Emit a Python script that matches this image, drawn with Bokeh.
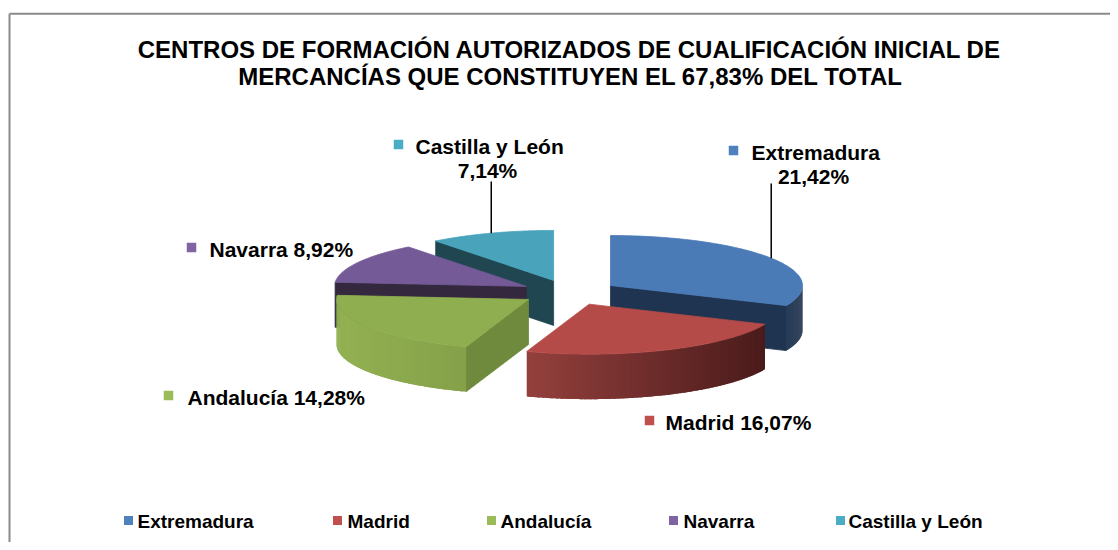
import numpy as np
from bokeh.plotting import figure
from bokeh.models import Range1d, ColumnDataSource
from bokeh.core.properties import value
from bokeh.embed import file_html
from bokeh.resources import INLINE

# ---------------- data ----------------
categories = ["Extremadura", "Madrid", "Andalucía", "Navarra", "Castilla y León"]
percent = [21.42, 16.07, 14.28, 8.92, 7.14]
pct_text = ["21,42%", "16,07%", "14,28%", "8,92%", "7,14%"]
title_lines = ["CENTROS DE FORMACIÓN AUTORIZADOS DE CUALIFICACIÓN INICIAL DE",
               "MERCANCÍAS QUE CONSTITUYEN EL 67,83% DEL TOTAL"]

# ---------------- styles ----------------
top_colors = ["#4a7bb7", "#b44b48", "#8fae50", "#745a97", "#49a3bb"]
side_light = ["#203653", "#94403d", "#93b152", "#35293f", "#1f4752"]
side_dark = ["#1c2f49", "#4a1b1b", "#84a149", "#35293f", "#1f4752"]
radial_colors = ["#1f3450", "#4a1b1b", "#6f8a3c", "#33283e", "#1f4651"]
legend_colors = ["#4f81bd", "#c0504d", "#9bbb59", "#8064a2", "#4bacc6"]
FONT = "Liberation Sans"

# pie geometry (screen pixels)
CX, CY = 569.0, 292.0
RX, RY = 192.0, 50.0
DEPTH = 45.0
EXPLODE = 0.255

W, H = 1110, 542
p = figure(width=W, height=H, x_range=Range1d(0, W), y_range=Range1d(H, 0),
           output_backend="svg", toolbar_location=None, min_border=0)
p.axis.visible = False
p.grid.visible = False
p.outline_line_color = None
p.background_fill_color = "white"
p.border_fill_color = "white"

# chart-area border (top and left visible)
p.line([9, 9], [13.3, 560], line_color="#8a8a8a", line_width=2)
p.line([9, 1130], [13.3, 13.3], line_color="#8a8a8a", line_width=2)


def hex2rgb(h):
    h = h.lstrip("#")
    return np.array([int(h[i:i + 2], 16) for i in (0, 2, 4)], dtype=float)


def mix(c1, c2, f):
    c = hex2rgb(c1) * (1 - f) + hex2rgb(c2) * f
    return "#%02x%02x%02x" % tuple(int(round(v)) for v in c)


def pt(cx, cy, th):
    r = np.radians(th)
    return cx + RX * np.sin(r), cy - RY * np.cos(r)


total = sum(percent)
angles = [v / total * 360.0 for v in percent]
starts = np.concatenate([[0.0], np.cumsum(angles)[:-1]])

slices = []
for i, (s, a) in enumerate(zip(starts, angles)):
    t1, t2 = s, s + a
    mid = (t1 + t2) / 2
    ox = CX + EXPLODE * RX * np.sin(np.radians(mid))
    oy = CY - EXPLODE * RY * np.cos(np.radians(mid))
    slices.append(dict(i=i, t1=t1, t2=t2, mid=mid, ox=ox, oy=oy))

xs, ys, fills, lines = [], [], [], []
for sl in sorted(slices, key=lambda d: d["oy"]):
    i, t1, t2, ox, oy = sl["i"], sl["t1"], sl["t2"], sl["ox"], sl["oy"]
    # radial faces
    for th, vis in ((t1, np.sin(np.radians(t1)) < -1e-6), (t2, np.sin(np.radians(t2)) > 1e-6)):
        if vis:
            px, py = pt(ox, oy, th)
            xs.append([ox, px, px, ox])
            ys.append([oy, py, py + DEPTH, oy + DEPTH])
            fills.append(radial_colors[i])
            lines.append(radial_colors[i])
    # outer (front) side with horizontal gradient, overlapping strips
    a, b = max(t1, 90.0), min(t2, 270.0)
    if a < b:
        n = 60
        edges = np.linspace(a, b, n + 1)
        step = edges[1] - edges[0]
        allx = [pt(ox, oy, e)[0] for e in edges]
        xmin, xmax = min(allx), max(allx)
        for k in range(n):
            hi = min(edges[k + 1] + 0.8 * step, b)
            th = np.linspace(edges[k], hi, 5)
            tx, ty = pt(ox, oy, th)
            px_ = list(tx) + list(tx[::-1])
            py_ = list(ty) + list((ty + DEPTH)[::-1])
            xm = np.mean(pt(ox, oy, np.array([edges[k], edges[k + 1]]))[0])
            f = (xm - xmin) / (xmax - xmin) if xmax > xmin else 0
            xs.append(px_)
            ys.append(py_)
            c = mix(side_light[i], side_dark[i], f)
            fills.append(c)
            lines.append(None)
    # top face
    th = np.linspace(t1, t2, 80)
    tx, ty = pt(ox, oy, th)
    xs.append([ox] + list(tx))
    ys.append([oy] + list(ty))
    fills.append(top_colors[i])
    lines.append(top_colors[i])

src = ColumnDataSource(dict(xs=xs, ys=ys, fill=fills, line=lines))
p.patches("xs", "ys", source=src, fill_color="fill", line_color="line", line_width=0.8)

# ---------------- title ----------------
p.text(x=[569, 570], y=[49, 76], text=title_lines, text_font=value(FONT),
       text_font_style="bold", text_font_size="24px", text_color="black",
       text_align="center", text_baseline="middle")

# ---------------- data labels ----------------
lab_sq_x = [733, 649, 168, 191, 398]
lab_tx_x = [751, 665, 187, 209, 415]
lab_y = [151, 421, 396, 248, 145]
lab_text = [categories[0], categories[1] + " " + pct_text[1],
            categories[2] + "  " + pct_text[2], categories[3] + " " + pct_text[3],
            categories[4]]
p.rect(x=lab_sq_x, y=[y - 1 for y in lab_y], width=9.5, height=9.5,
       fill_color=legend_colors, line_color=None)
p.text(x=lab_tx_x, y=[y + 1 for y in lab_y], text=lab_text, text_font=value(FONT),
       text_font_style="bold", text_font_size="21px", text_color="black",
       text_align="left", text_baseline="middle")
sec_idx = [0, 4]
sec_x = [813, 487]
sec_y = [176, 170]
p.text(x=sec_x, y=sec_y, text=[pct_text[k] for k in sec_idx], text_font=value(FONT),
       text_font_style="bold", text_font_size="21px", text_color="black",
       text_align="center", text_baseline="middle")
lead_x0, lead_y0, lead_x1, lead_y1 = [], [], [], []
for k, ytop in zip(sec_idx, [183, 181]):
    sl = slices[k]
    ex, ey = pt(sl["ox"], sl["oy"], sl["mid"])
    lead_x0.append(ex)
    lead_y0.append(ytop)
    lead_x1.append(ex)
    lead_y1.append(ey)
p.segment(x0=lead_x0, y0=lead_y0, x1=lead_x1, y1=lead_y1, line_color="black", line_width=1.5)

# ---------------- legend ----------------
leg_sq_x = [128, 337, 491, 673, 840]
leg_tx_x = [137, 347, 500, 683, 848]
leg_y = 520
p.rect(x=leg_sq_x, y=[leg_y] * 5, width=9, height=9, fill_color=legend_colors, line_color=None)
p.text(x=leg_tx_x, y=[leg_y + 1] * 5, text=categories, text_font=value(FONT),
       text_font_style="bold", text_font_size="19px", text_color="black",
       text_align="left", text_baseline="middle")

open("out.html", "w").write(file_html(p, INLINE))
